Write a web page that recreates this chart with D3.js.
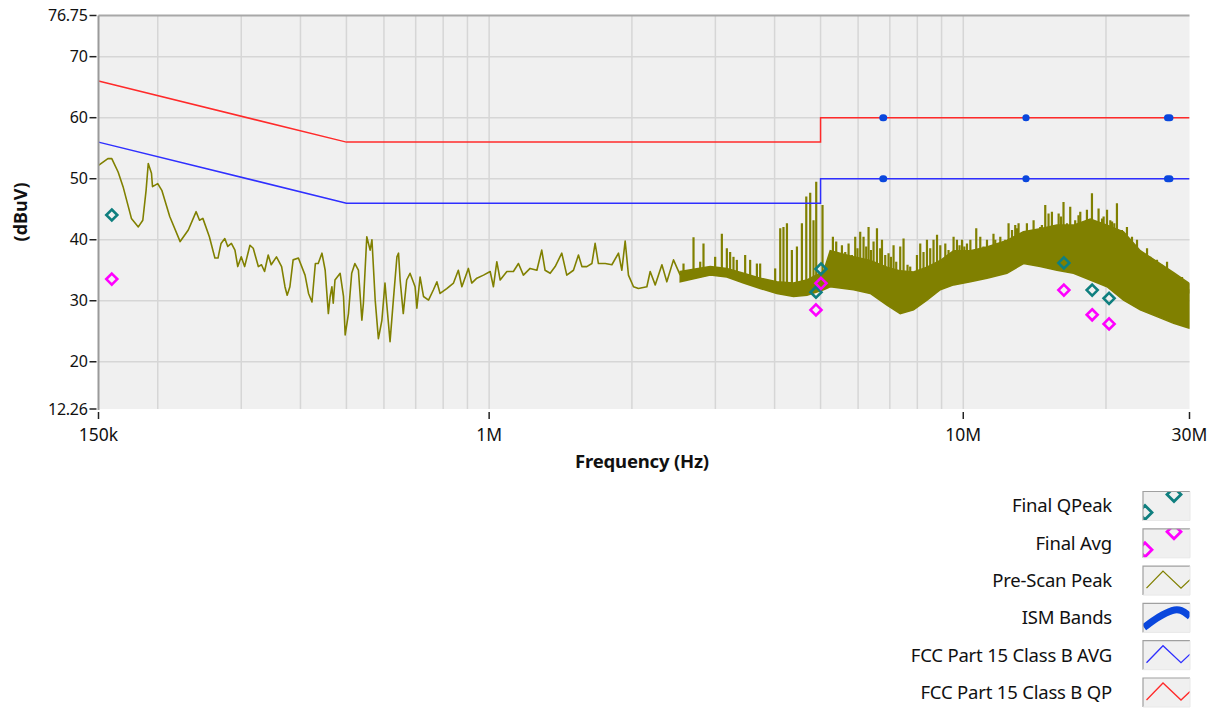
<!DOCTYPE html>
<html><head><meta charset="utf-8">
<script src="https://cdn.jsdelivr.net/npm/d3@7"></script>
<style>
html,body{margin:0;padding:0;background:#fff;}
svg text{font-family:"Noto Sans","Open Sans",sans-serif;fill:#111;}
</style></head>
<body>
<svg id="c" width="1218" height="708"></svg>
<script>
// ---------- DATA (frequencies in MHz, levels in dBuV) ----------
const traceF = [0.150,0.157,0.160,0.165,0.169,0.176,0.182,0.186,0.189,0.191,0.194,0.195,0.200,0.204,0.212,0.223,0.232,0.241,0.245,0.249,0.257,0.264,0.268,0.272,0.277,0.281,0.286,0.291,0.295,0.300,0.305,0.313,0.318,0.326,0.331,0.336,0.342,0.347,0.356,0.365,0.371,0.375,0.380,0.386,0.396,
0.409,0.416,0.423,0.430,0.436,0.444,0.451,0.458,0.462,0.466,0.469,0.473,0.485,0.493,0.497,0.505,0.513,0.521,0.530,0.539,0.543,0.552,0.561,0.566,0.575,0.584,0.594,0.603,0.608,0.618,0.628,0.639,0.644,0.649,0.659,0.670,0.681,0.698,0.704,0.715,0.727,0.745,0.763,0.776,0.788,0.814,0.841,0.861,0.876,0.904,0.919,0.942,0.973,1.005,
1.021,1.038,1.055,1.090,1.125,1.153,1.181,1.220,1.261,1.291,1.312,1.345,1.378,1.423,1.458,1.506,1.543,1.569,1.607,1.647,1.673,1.700,1.757,1.815,1.874,1.905,1.936,1.967,2.016,2.065,2.151,2.186,2.240,2.314,2.370,2.448,2.529];
const traceV = [52.2,53.3,53.3,51.1,48.7,43.5,42.1,43.2,48.1,52.5,50.9,48.7,49.2,48.1,43.8,39.7,41.6,44.6,43.2,43.5,40.5,37.0,37.0,39.4,40.2,38.9,39.4,38.3,35.6,37.2,35.6,39.1,38.6,35.6,35.9,34.8,37.5,35.9,37.2,35.6,32.3,30.9,32.3,36.7,37.0,
34.2,31.2,29.8,36.1,36.1,37.8,35.0,27.9,30.7,32.3,29.6,33.4,34.5,30.7,24.4,27.9,34.5,36.1,35.0,26.8,29.6,40.5,38.3,40.0,30.1,23.8,26.8,32.9,29.6,23.3,30.1,37.2,37.8,33.4,27.9,33.4,34.5,32.3,28.8,33.9,30.7,30.1,31.8,33.1,31.2,32.0,32.9,35.0,32.3,35.3,32.9,33.7,34.2,34.8,
32.3,36.4,33.4,34.8,34.8,36.1,34.2,35.3,35.0,38.3,35.0,34.5,35.6,37.8,34.2,35.0,37.5,35.6,35.6,36.1,39.4,36.1,36.1,35.9,37.8,35.0,39.8,34.2,32.3,32.0,32.3,34.8,32.6,35.9,33.1,36.7,34.2];

// dense part of the pre-scan: envelope of the filled band
const bandF  = [2.529,2.926,3.172,3.440,3.729,4.045,4.385,4.680,5.072,5.240,5.869,6.365,6.903,7.362,7.854,8.383,8.943,9.540,10.35,11.22,12.36,13.40,14.53,15.76,17.08,18.53,20.10,21.78,23.62,25.62,27.78,30.0];
const bandHi = [34.8,35.6,35.3,34.5,33.7,33.1,32.9,33.4,34.8,38.2,37.2,36.6,35.5,34.9,34.7,35.5,36.6,38.2,38.2,38.8,39.9,41.3,41.8,42.4,42.4,43.4,42.4,41.3,38.2,36.4,34.6,32.8];
const bandLo = [33.1,34.2,33.9,32.9,32.0,31.2,30.7,30.9,31.8,32.3,31.8,31.2,29.3,27.9,28.5,30.1,31.8,32.6,33.1,33.7,34.5,36.1,35.6,35.0,34.5,33.4,32.3,30.1,28.5,27.4,26.3,25.5];
// spikes rising above the band
const spikeF = [2.570,2.698,2.787,2.832,2.997,3.096,3.172,3.223,3.276,3.330,3.467,3.552,3.670,3.729,4.011,4.111,4.176,4.247,4.350,4.458,4.567,4.665,4.755,4.832,4.896,5.048,
5.309,5.395,5.456,5.547,5.637,5.729,5.823,5.917,5.982,6.062,6.161,6.241,6.313,6.385,6.468,6.576,6.680,6.738,6.845,6.956,7.037,7.128,7.220,7.362,7.482,7.628,7.728,7.985,8.114,8.244,8.383,8.517,8.655,8.803,8.943,9.164,9.309,9.540,9.698,9.819,9.938,10.05,10.18,10.35,10.51,10.65,10.86,11.03,11.22,11.40,11.58,11.68,11.78,11.97,
12.26,12.46,12.67,12.81,12.87,12.98,13.08,13.40,13.62,13.96,14.07,14.30,14.53,14.65,14.89,15.13,15.38,15.63,15.89,16.07,16.27,16.55,16.81,17.22,17.50,17.65,17.94,18.23,18.68,18.99,19.29,19.62,19.77,20.10,20.42,20.60,20.82,21.09,21.61,22.14,22.50,22.69,23.25,23.81,24.41,24.80,25.20,25.62,26.25,26.45,26.90,27.56,28.23,28.93,29.88];
const spikeV = [36.1,40.4,36.4,39.4,37.2,41.0,38.6,38.0,37.2,36.7,37.5,36.7,36.1,36.1,35.3,41.9,42.1,42.7,38.3,38.9,42.7,47.1,47.7,43.2,49.5,45.7,
40.5,39.7,37.8,39.1,38.0,39.4,37.5,40.5,38.6,41.3,40.5,38.9,42.1,38.3,39.7,41.9,38.6,40.0,37.5,37.8,37.2,39.1,36.4,38.9,40.2,35.9,35.6,37.5,39.4,38.0,40.0,38.6,40.0,40.8,39.1,39.4,38.3,40.5,40.0,39.1,40.0,38.9,39.4,40.0,38.0,41.9,40.5,38.9,40.0,38.6,41.0,40.0,39.1,40.5,
40.0,42.7,41.6,40.2,42.4,41.9,42.7,41.3,42.7,41.3,43.2,41.6,42.1,42.4,45.7,44.3,44.6,42.1,44.3,43.8,46.2,42.7,45.4,43.2,44.0,44.6,42.1,44.9,47.6,43.0,45.1,43.5,43.8,44.9,43.2,43.0,42.7,46.0,41.6,42.1,40.0,40.5,40.0,38.0,38.6,37.2,36.4,36.7,35.9,35.3,36.4,33.9,34.2,33.9,31.2];

const qpF  = [0.160,4.89,5.01,16.3,18.7,20.3];
const qpV  = [44.05,31.4,35.2,36.2,31.75,30.4];
const avgF = [0.160,4.89,5.01,16.3,18.7,20.3];
const avgV = [33.55,28.5,32.85,31.75,27.7,26.2];

const limitF   = [0.15,0.5,5,5,30];
const limitQP  = [66,56,56,60,60];
const limitAVG = [56,46,46,50,50];
const ismBands = [[6.765,6.795],[13.553,13.567],[26.957,27.283]];

const yTicks = [12.26,20,30,40,50,60,70,76.75];
const yGrid  = [20,30,40,50,60,70];
const xTicks = [0.15,1,10,30];
const xTickLabels = ["150k","1M","10M","30M"];
const xGrid = [0.2,0.3,0.4,0.5,0.6,0.7,0.8,0.9,1,2,3,4,5,6,7,8,9,10,20];

const legendLabels = ["Final QPeak","Final Avg","Pre-Scan Peak","ISM Bands","FCC Part 15 Class B AVG","FCC Part 15 Class B QP"];

// ---------- STYLE ----------
const C = {qp:"#0f7f7f", avg:"#ff00ff", trace:"#808000", ism:"#0a47dd", avgLim:"#2f2fff", qpLim:"#ff2a2a", bg:"#f0f0f0", grid:"#d6d6d6"};
const L = 98.5, R = 1189.5, T = 15.5, B = 409;

const svg = d3.select("#c");
const x = d3.scaleLog().domain([0.15,30]).range([L,R]);
const y = d3.scaleLinear().domain([12.26,76.75]).range([B,T]);

const defs = svg.append("defs");
defs.append("clipPath").attr("id","plotclip")
  .append("rect").attr("x",L).attr("y",T).attr("width",R-L).attr("height",B-T);

svg.append("rect").attr("x",L).attr("y",T).attr("width",R-L).attr("height",B-T).attr("fill",C.bg);

const g = svg.append("g");
g.selectAll(".vg").data(xGrid).join("line")
  .attr("x1",d=>x(d)).attr("x2",d=>x(d)).attr("y1",T).attr("y2",B)
  .attr("stroke",C.grid).attr("stroke-width",1.5);
g.selectAll(".hg").data(yGrid).join("line")
  .attr("x1",L).attr("x2",R).attr("y1",d=>y(d)).attr("y2",d=>y(d))
  .attr("stroke",C.grid).attr("stroke-width",1.5);

const plot = svg.append("g").attr("clip-path","url(#plotclip)");

// pre-scan trace
const line = d3.line().x(d=>x(d[0])).y(d=>y(d[1]));
plot.append("path").datum(traceF.map((f,i)=>[f,traceV[i]]))
  .attr("d",line).attr("fill","none").attr("stroke",C.trace).attr("stroke-width",1.6).attr("stroke-linejoin","round");

const band = bandF.map((f,i)=>({f,lo:bandLo[i],hi:bandHi[i]}));
plot.append("path").datum(band)
  .attr("d",d3.area().x(d=>x(d.f)).y0(d=>y(d.lo)).y1(d=>y(d.hi)))
  .attr("fill",C.trace).attr("stroke",C.trace).attr("stroke-width",1.5);

// spikes: from band top (interpolated on log-frequency) up to the spike level
const logBand = bandF.map(f=>Math.log10(f));
function bandTop(f){
  const lf = Math.log10(f);
  const i = Math.max(1, Math.min(logBand.length-1, d3.bisectLeft(logBand, lf)));
  const t = (lf-logBand[i-1])/(logBand[i]-logBand[i-1]);
  return bandHi[i-1] + t*(bandHi[i]-bandHi[i-1]);
}
plot.selectAll(".sp").data(spikeF.map((f,i)=>[f,spikeV[i]])).join("line")
  .attr("x1",d=>x(d[0])).attr("x2",d=>x(d[0]))
  .attr("y1",d=>y(bandTop(d[0])-1)).attr("y2",d=>y(d[1]))
  .attr("stroke",C.trace).attr("stroke-width",2.2);

// limits
plot.append("path").datum(limitF.map((f,i)=>[f,limitQP[i]]))
  .attr("d",line).attr("fill","none").attr("stroke",C.qpLim).attr("stroke-width",1.5);
plot.append("path").datum(limitF.map((f,i)=>[f,limitAVG[i]]))
  .attr("d",line).attr("fill","none").attr("stroke",C.avgLim).attr("stroke-width",1.5);

// ISM bands drawn on the limit lines
const ismSegs = [];
ismBands.forEach(b=>{ ismSegs.push([b,60]); ismSegs.push([b,50]); });
plot.selectAll(".ism").data(ismSegs).join("line")
  .attr("x1",d=>x(d[0][0])).attr("x2",d=>x(d[0][1]))
  .attr("y1",d=>y(d[1])).attr("y2",d=>y(d[1]))
  .attr("stroke",C.ism).attr("stroke-width",7).attr("stroke-linecap","round");

// markers
const dia = "M0,-5.5L5.5,0L0,5.5L-5.5,0Z";
plot.selectAll(".qpm").data(qpF.map((f,i)=>[f,qpV[i]])).join("path")
  .attr("d",dia).attr("transform",d=>`translate(${x(d[0])},${y(d[1])})`)
  .attr("fill","none").attr("stroke",C.qp).attr("stroke-width",2.6);
plot.selectAll(".avm").data(avgF.map((f,i)=>[f,avgV[i]])).join("path")
  .attr("d",dia).attr("transform",d=>`translate(${x(d[0])},${y(d[1])})`)
  .attr("fill","none").attr("stroke",C.avg).attr("stroke-width",2.6);

// frame (top and left)
svg.append("line").attr("x1",L).attr("x2",R).attr("y1",T).attr("y2",T).attr("stroke","#a8a8a8").attr("stroke-width",2);
svg.append("line").attr("x1",L).attr("x2",L).attr("y1",T).attr("y2",B+1).attr("stroke","#9a9a9a").attr("stroke-width",2);

// y axis ticks + labels
svg.selectAll(".yt").data(yTicks).join("line")
  .attr("x1",L-9).attr("x2",L-2).attr("y1",d=>y(d)).attr("y2",d=>y(d))
  .attr("stroke","#222").attr("stroke-width",1.5);
svg.selectAll(".yl").data(yTicks).join("text")
  .attr("x",L-11).attr("y",d=>y(d)).attr("dy","0.35em").attr("text-anchor","end")
  .attr("font-size",16).attr("letter-spacing","-0.3").text(d=>d3.format("~f")(d));

// x axis ticks + labels
svg.selectAll(".xt").data(xTicks).join("line")
  .attr("x1",d=>x(d)).attr("x2",d=>x(d)).attr("y1",B+3).attr("y2",B+10)
  .attr("stroke","#222").attr("stroke-width",1.5);
svg.selectAll(".xl").data(xTicks).join("text")
  .attr("x",d=>x(d)).attr("y",B+32).attr("text-anchor","middle")
  .attr("font-size",17.5).text((d,i)=>xTickLabels[i]);

svg.append("text").attr("x",642).attr("y",468).attr("text-anchor","middle")
  .attr("font-size",18.5).attr("font-weight","bold").attr("letter-spacing","-0.2").text("Frequency (Hz)");
svg.append("text").attr("transform","translate(27,212) rotate(-90)").attr("text-anchor","middle")
  .attr("font-size",18).attr("font-weight","bold").text("(dBuV)");

// legend
const LX = 1143, LW = 47, LH = 29, LY0 = 491.5, LDY = 37.3;
defs.append("clipPath").attr("id","legclip").append("rect")
  .attr("x",0).attr("y",0).attr("width",LW).attr("height",LH);
const legDia = "M0,-7L7,0L0,7L-7,0Z";
const leg = svg.append("g");
legendLabels.forEach((lab,i)=>{
  const top = LY0 + i*LDY;
  leg.append("text").attr("x",1112).attr("y",top+LH/2).attr("dy","0.35em")
    .attr("text-anchor","end").attr("font-size",18.5).attr("letter-spacing","-0.2").text(lab);
  const box = leg.append("g").attr("transform",`translate(${LX},${top})`);
  box.append("rect").attr("width",LW).attr("height",LH).attr("fill",C.bg);
  const ig = box.append("g").attr("clip-path","url(#legclip)");
  if(i<2){
    const col = i===0?C.qp:C.avg;
    [[2,21],[31,3]].forEach(p=>ig.append("path").attr("d",legDia)
      .attr("transform",`translate(${p[0]},${p[1]})`).attr("fill","none").attr("stroke",col).attr("stroke-width",2.8));
  } else if(i===3){
    ig.append("path").attr("d",d3.line().curve(d3.curveBasis)([[1,24],[16,13],[30,6],[38,6],[47,13]]))
      .attr("fill","none").attr("stroke",C.ism).attr("stroke-width",7);
  } else {
    const col = i===2?C.trace:(i===4?C.avgLim:C.qpLim);
    ig.append("path").attr("d",d3.line()([[3.5,22],[20,5],[38,22],[47,13.5]]))
      .attr("fill","none").attr("stroke",col).attr("stroke-width",1.3);
  }
  box.append("path").attr("d",`M0,${LH}V0H${LW}`).attr("fill","none").attr("stroke","#a0a0a0").attr("stroke-width",1.2);
  box.append("path").attr("d",`M${LW},0V${LH}H0`).attr("fill","none").attr("stroke","#e8e8e8").attr("stroke-width",1);
});
</script>
</body></html>
